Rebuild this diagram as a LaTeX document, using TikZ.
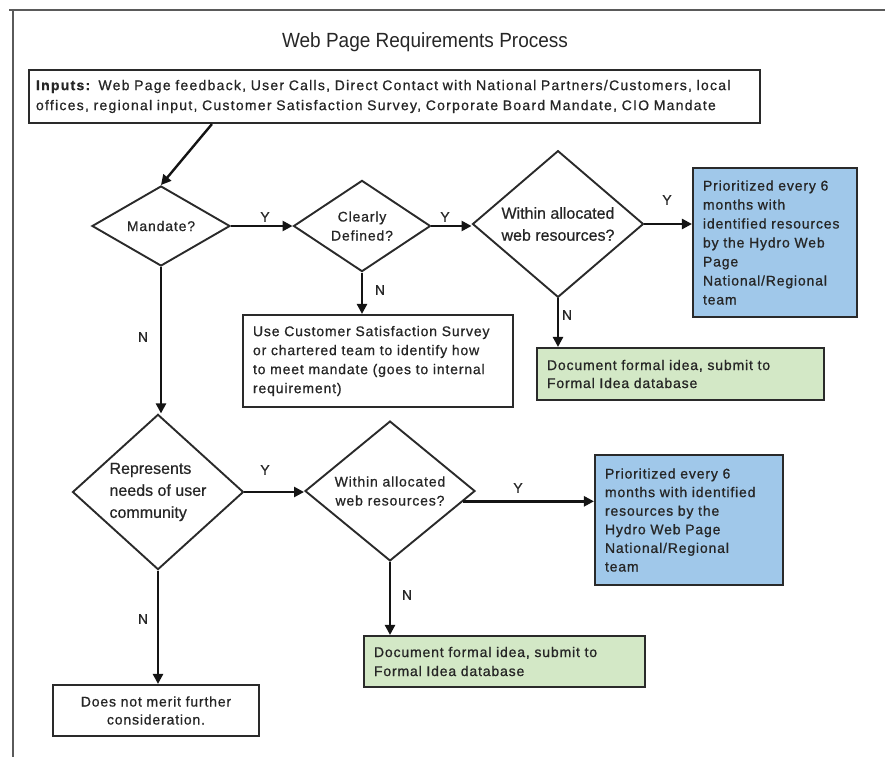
\documentclass[tikz,border=0pt]{standalone}
\usepackage{fontspec}
\setmainfont{Liberation Sans}
\newfontfamily\spacedLS{Liberation Sans}[LetterSpace=6,FakeBold=0.8]
\newfontfamily\inputsLS{Liberation Sans}[LetterSpace=9,FakeBold=0.8]
\newfontfamily\plainLS{Liberation Sans}[FakeBold=0.6]
\newfontfamily\titleLS{Liberation Sans}
\usetikzlibrary{arrows.meta,shapes.geometric,calc}
\definecolor{txt}{HTML}{262626}
\definecolor{ln}{HTML}{2A2A2A}
\definecolor{bluefill}{HTML}{A0C8EA}
\definecolor{greenfill}{HTML}{D3E8C6}
\definecolor{frame}{HTML}{5A5A5A}
\newcommand\myBody{\spacedLS\fontsize{14}{19}\selectfont}
\newcommand\myCond{\plainLS\fontsize{16}{22}\selectfont}
\newcommand\myInputs{\inputsLS\fontsize{14}{20}\selectfont}
\newcommand\myTitle{\titleLS\fontsize{19}{22}\selectfont}
\newcommand\myYN{\plainLS\fontsize{14}{16}\selectfont}
\begin{document}
\begin{tikzpicture}[x=1pt,y=-1pt,
  dia/.style={draw=ln, line width=1.9pt, shape=diamond, inner sep=0pt, text=txt, align=center},
  box/.style={draw=ln, line width=2.1pt, inner ysep=0pt, inner xsep=10pt, align=left, text=txt, font=\myBody},
  arr/.style={draw=black!92, line width=2.4pt, -{Triangle[length=10pt,width=10pt]}},
  yn/.style={font=\myYN, text=txt, inner sep=0pt}]
\useasboundingbox (0,0) rectangle (885,757);
% frame
\draw[frame, line width=2.5pt] (9,10) -- (885,10);
\draw[frame, line width=2.5pt] (13,10) -- (13,757);
% title
\node[font=\myTitle, text=black!85, yscale=1.08] (title) at (425,42) {Web Page Requirements Process};
% inputs
\node[box, font=\myInputs, minimum width=731, minimum height=53, text width=717, inner xsep=7pt] (inputs) at (394.5,96.5)
 {\textbf{Inputs:} Web Page feedback, User Calls, Direct Contact with National Partners/Customers, local\\
  offices, regional input, Customer Satisfaction Survey, Corporate Board Mandate, CIO Mandate};
% diamonds
\node[dia, font=\myBody, minimum width=138, minimum height=80] (mandate) at (161,226) {Mandate?};
\node[dia, font=\myBody, minimum width=137, minimum height=83] (clearly) at (362,226) {Clearly\\Defined?};
\node[dia, font=\myCond, minimum width=171, minimum height=138] (within1) at (558,224) {Within allocated\\web resources?};
\node[dia, font=\myCond, minimum width=171, minimum height=137, align=left] (represents) at (158,492) {Represents\\needs of user\\community};
\node[dia, font=\myBody, minimum width=170, minimum height=136] (within2) at (390,491) {Within allocated\\web resources?};
% boxes
\node[box, fill=bluefill, minimum width=164, minimum height=149, text width=144] (prio1) at (775,242.5)
 {Prioritized every 6\\months with\\identified resources\\by the Hydro Web\\Page\\National/Regional\\team};
\node[box, minimum width=270, minimum height=92, text width=250] (use) at (378,361)
 {Use Customer Satisfaction Survey\\or chartered team to identify how\\to meet mandate (goes to internal\\requirement)};
\node[box, fill=greenfill, minimum width=287, minimum height=52, text width=267, font=\spacedLS\fontsize{14}{18}\selectfont] (doc1) at (680.5,374)
 {Document formal idea, submit to\\Formal Idea database};
\node[box, fill=bluefill, minimum width=188, minimum height=130, text width=168, font=\spacedLS\fontsize{14}{18.6}\selectfont] (prio2) at (689,520)
 {Prioritized every 6\\months with identified\\resources by the\\Hydro Web Page\\National/Regional\\team};
\node[box, fill=greenfill, minimum width=281, minimum height=51, text width=261] (doc2) at (504.5,661.5)
 {Document formal idea, submit to\\Formal Idea database};
\node[box, align=center, minimum width=206, minimum height=51, text width=186, font=\spacedLS\fontsize{14}{18}\selectfont] (notmerit) at (156,710.5)
 {Does not merit further\\consideration.};
% connectors
\coordinate (intap) at ($(inputs.south west)+(184,0)$);
\draw[arr] (intap) -- (mandate.north);
\draw[arr] (mandate.east) -- (clearly.west);
\draw[arr] (clearly.east) -- (clearly.east -| within1.west);
\draw[arr] (within1.east) -- (within1.east -| prio1.west);
\draw[arr] (clearly.south) -- (clearly.south |- use.north);
\draw[arr] (within1.south) -- (within1.south |- doc1.north);
\draw[arr] (mandate.south) -- (mandate.south |- represents.north);
\draw[arr] (represents.south) -- (represents.south |- notmerit.north);
\draw[arr] (represents.east) -- (represents.east -| within2.west);
\draw[arr] (within2.-8) -- (within2.-8 -| prio2.west);
\draw[arr] (within2.south) -- (within2.south |- doc2.north);
% labels
\node[yn] (y1) at (265,217) {Y};
\node[yn] (y2) at (445,217) {Y};
\node[yn] (y3) at (667,200) {Y};
\node[yn] (y4) at (265,470) {Y};
\node[yn] (y5) at (518,488) {Y};
\node[yn] (n1) at (380,290) {N};
\node[yn] (n2) at (567,315) {N};
\node[yn] (n3) at (143,337) {N};
\node[yn] (n4) at (407,595) {N};
\node[yn] (n5) at (143,619) {N};
\end{tikzpicture}
\end{document}
